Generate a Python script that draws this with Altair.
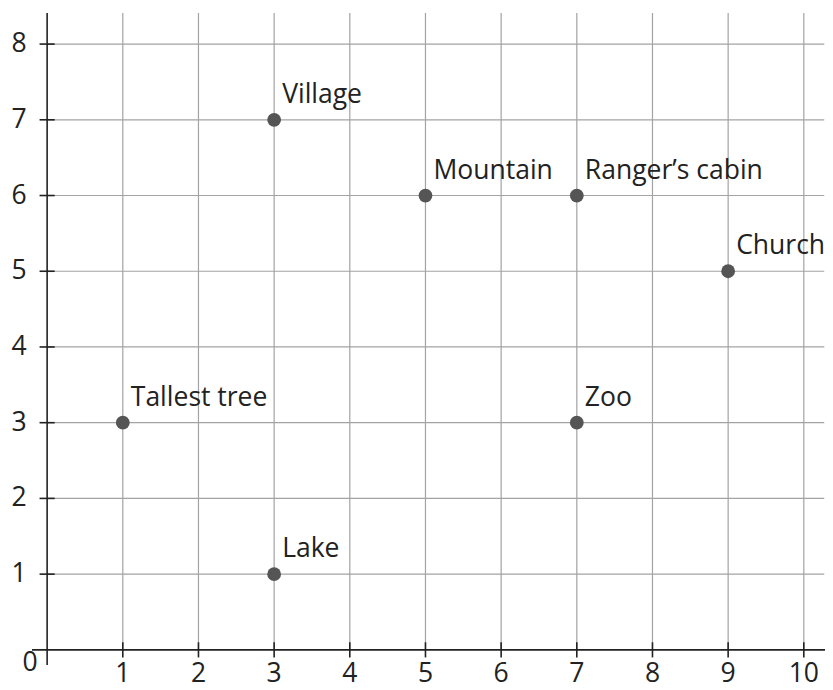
import altair as alt
import pandas as pd

names = ["Village", "Mountain", "Ranger\u2019s cabin", "Church", "Tallest tree", "Zoo", "Lake"]
xs = [3, 5, 7, 9, 1, 7, 3]
ys = [7, 6, 6, 5, 3, 3, 1]
x_ticks = [1, 2, 3, 4, 5, 6, 7, 8, 9, 10]
y_ticks = [1, 2, 3, 4, 5, 6, 7, 8]

XD = [-0.2, 10.28]
YD = [-0.2, 8.45]
FONT = "Open Sans"
FS = 26.5
TFS = 26.5

pts = pd.DataFrame({"name": names, "x": xs, "y": ys})
xt = pd.DataFrame({"v": x_ticks, "lab": [str(v) for v in x_ticks]})
yt = pd.DataFrame({"v": y_ticks, "lab": [str(v) for v in y_ticks]})

xs_ = alt.Scale(domain=XD, nice=False, zero=False)
ys_ = alt.Scale(domain=YD, nice=False, zero=False)

def X(f): return alt.X(f, type="quantitative", scale=xs_, axis=None)
def Y(f): return alt.Y(f, type="quantitative", scale=ys_, axis=None)

vgrid = alt.Chart(xt).mark_rule(color="#a3a3a3", strokeWidth=1.2).encode(
    x=X("v"), y=Y("y0"), y2="y1:Q").transform_calculate(y0="0", y1="8.41")
hgrid = alt.Chart(yt).mark_rule(color="#a3a3a3", strokeWidth=1.2).encode(
    y=Y("v"), x=X("x0"), x2="x1:Q").transform_calculate(x0="0", x1="10.27")

axes_df = pd.DataFrame({"x0": [-0.2, 0], "x1": [10.28, 0], "y0": [0, -0.2], "y1": [0, 8.41]})
axes = alt.Chart(axes_df).mark_rule(color="#222222", strokeWidth=1.6).encode(
    x=X("x0"), x2="x1", y=Y("y0"), y2="y1")

xtick = alt.Chart(xt).mark_rule(color="#222222", strokeWidth=1.6).encode(
    x=X("v"), y=Y("a"), y2="b:Q").transform_calculate(a="-0.1", b="0.1")
ytick = alt.Chart(yt).mark_rule(color="#222222", strokeWidth=1.6).encode(
    y=Y("v"), x=X("a"), x2="b:Q").transform_calculate(a="-0.1", b="0.1")

xlab = alt.Chart(xt).mark_text(font=FONT, fontSize=TFS, color="#222222", baseline="middle", align="center", dy=24).encode(
    x=X("v"), y=Y("z"), text="lab:N").transform_calculate(z="0")
ylab = alt.Chart(yt).mark_text(font=FONT, fontSize=TFS, color="#222222", baseline="middle", align="center", dx=-28).encode(
    y=Y("v"), x=X("z"), text="lab:N").transform_calculate(z="0")
zero = alt.Chart(pd.DataFrame({"x": [0], "y": [0], "t": ["0"]})).mark_text(
    font=FONT, fontSize=TFS, color="#222222", baseline="middle", align="center", dx=-17, dy=13).encode(
    x=X("x"), y=Y("y"), text="t:N")

points = alt.Chart(pts).mark_circle(size=190, color="#555555", opacity=1).encode(x=X("x"), y=Y("y"))
labels = alt.Chart(pts).mark_text(font=FONT, fontSize=FS, color="#222222", align="left", baseline="middle", dx=8, dy=-25).encode(
    x=X("x"), y=Y("y"), text="name:N")

chart = alt.layer(vgrid, hgrid, axes, xtick, ytick, xlab, ylab, zero, points, labels).properties(
    width=793, height=655,
    autosize=alt.AutoSizeParams(type="none"),
    padding={"left": 24, "top": 2, "right": 0, "bottom": 25},
).configure_view(stroke=None)

chart.save("out.html", embed_options={"renderer": "svg", "actions": False})
